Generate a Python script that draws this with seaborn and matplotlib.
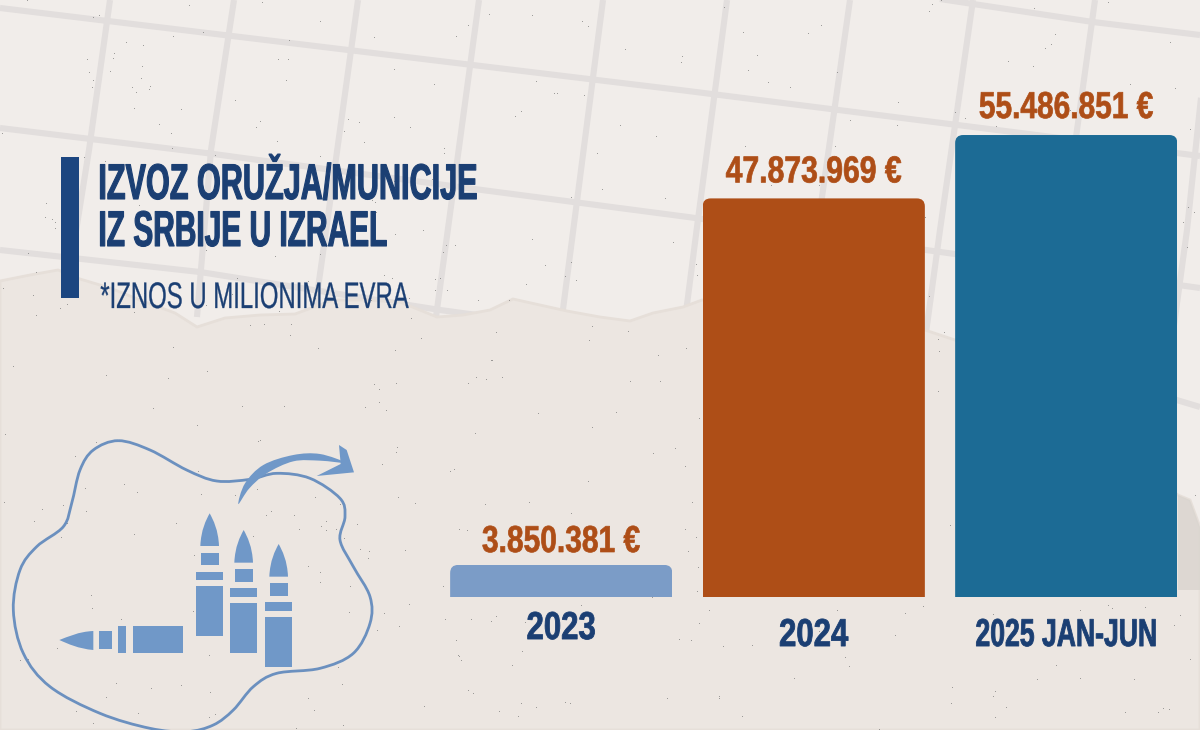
import numpy as np
import matplotlib
matplotlib.use("Agg")
import matplotlib.pyplot as plt
import matplotlib.patheffects as pe
from matplotlib.patches import FancyBboxPatch, PathPatch, Polygon, Rectangle
from matplotlib.path import Path
from matplotlib.transforms import Affine2D
import seaborn as sns

# ==========================================
# DATA
# ==========================================
periods = ["2023", "2024", "2025 JAN-JUN"]
amounts = [3850381, 47873969, 55486851]
bar_colors = ["#7b9cc7", "#ae4e17", "#1c6b95"]
title_lines = ["IZVOZ ORUŽJA/MUNICIJE", "IZ SRBIJE U IZRAEL"]
note = "*IZNOS U MILIONIMA EVRA"

NAVY = "#1b3f73"
RUST = "#ae4e17"
ICON = "#7098c8"


class Squeeze(pe.AbstractPathEffect):
    # no condensed poster font here, so fit the glyphs to a width and stretch them up
    def __init__(self, width, sy, lw=0.0):
        super().__init__()
        self.width, self.sy, self.lw = width, sy, lw

    def draw_path(self, renderer, gc, tpath, affine, rgbFace=None):
        box = tpath.get_extents()
        shown = tpath.transformed(affine).get_extents().width
        cx = (box.x0 + box.x1) / 2
        squeeze = Affine2D().translate(-cx, 0).scale(self.width / shown, self.sy).translate(cx, 0)
        gc0 = renderer.new_gc()
        gc0.copy_properties(gc)
        gc0.set_linewidth(self.lw)
        renderer.draw_path(gc0, tpath, squeeze + affine, rgbFace)
        gc0.restore()


sns.set_theme(style="white")
plt.rcParams["font.family"] = ["Liberation Sans", "DejaVu Sans"]

fig = plt.figure(figsize=(12, 7.3), dpi=100)

# ==========================================
# PAPER BACKGROUND (pixel coordinates)
# ==========================================
bg = fig.add_axes([0, 0, 1, 1])
bg.set_xlim(0, 1200)
bg.set_ylim(730, 0)
bg.axis("off")
bg.add_patch(Rectangle((0, 0), 1200, 730, color="#f1edea", zorder=0))

grid_lines = [
    [(0, 8), (680, 90), (1013, 132), (1200, 156)],
    [(880, -10), (1093, 22), (1200, 35)],
    [(0, 128), (206, 153), (482, 190), (688, 217), (1200, 288)],
    [(0, 250), (200, 272), (440, 310), (700, 345)],
    [(1170, 398), (1200, 407)],
    [(110, 0), (89, 150), (65, 300)],
    [(234, 0), (211, 150), (197, 317)],
    [(358, 0), (321, 267), (312, 330)],
    [(479, 0), (436, 317)],
    [(603, 0), (562, 317)],
    [(727, 0), (697, 227), (685, 320)],
    [(850, 0), (822, 197), (800, 330)],
    [(973, 0), (940, 230), (925, 340)],
    [(1095, 0), (1077, 130), (1050, 330)],
    [(1205, 60), (1187, 230), (1172, 340)],
]
for pts in grid_lines:
    xs, ys = zip(*pts)
    bg.plot(xs, ys, color="#e2dedd", lw=4.4, solid_capstyle="butt", zorder=1)

torn_edge = [(0, 281), (30, 275), (58, 270), (80, 279), (110, 288), (140, 300), (175, 313),
             (197, 327), (225, 318), (260, 315), (295, 314), (333, 300), (365, 300), (400, 302),
             (437, 317), (463, 315), (490, 310), (513, 299), (540, 305), (567, 311), (600, 317),
             (630, 321), (653, 313), (683, 307), (702, 300), (925, 330), (955, 340),
             (1178, 495), (1190, 500), (1200, 527), (1200, 730), (0, 730)]
bg.add_patch(Polygon(torn_edge, closed=True, facecolor="#ece6e1", edgecolor="#e6dfd9", lw=2, zorder=2))
bg.add_patch(Polygon([(1178, 495), (1190, 500), (1200, 527), (1200, 590), (1178, 590)],
                     closed=True, facecolor="#d8d3ce", edgecolor="none", alpha=0.75, zorder=2))

# paper grain from a sine hash, only a few dark specks
yy, xx = np.mgrid[0:730, 0:1200]
grain = np.modf(np.abs(np.sin(xx * 12.9898 + yy * 78.233) * 43758.5453))[0]
overlay = np.zeros((730, 1200, 4))
overlay[..., :3] = 0.4
overlay[..., 3] = np.where(grain > 0.9994, 0.6, 0.0)
bg.imshow(overlay, extent=(0, 1200, 730, 0), aspect="auto", interpolation="bilinear", zorder=3)

# ==========================================
# ICON (traced from the 3x crop, origin 0,420)
# ==========================================
def px(points):
    return [(x / 3, y / 3 + 420) for x, y in points]


def smooth_closed(points):
    # Catmull-Rom through the points, as cubic Beziers
    p = np.array(points, dtype=float)
    n = len(p)
    verts = [p[0]]
    codes = [Path.MOVETO]
    for i in range(n):
        p0, p1, p2, p3 = p[i - 1], p[i], p[(i + 1) % n], p[(i + 2) % n]
        verts += [p1 + (p2 - p0) / 6, p2 - (p3 - p1) / 6, p2]
        codes += [Path.CURVE4] * 3
    return Path(verts, codes)


blob = px([(355, 62), (450, 90), (560, 150), (650, 183), (750, 178), (830, 160), (930, 175),
           (1020, 235), (1035, 290), (1020, 360), (1060, 440), (1110, 530), (1110, 610),
           (1060, 700), (960, 745), (830, 760), (760, 800), (700, 870), (640, 915), (560, 935),
           (450, 925), (300, 880), (150, 800), (70, 700), (40, 570), (60, 450), (110, 380),
           (190, 320), (215, 250), (240, 150), (280, 90)])
bg.add_patch(PathPatch(smooth_closed(blob), facecolor="none", edgecolor="#6b90bf", lw=2.0, zorder=4))

shaft = px([(715, 252), (735, 190), (790, 135), (880, 105), (960, 102), (1035, 128),
            (960, 122), (880, 124), (800, 160), (748, 205)])
bg.add_patch(PathPatch(smooth_closed(shaft), facecolor=ICON, edgecolor="none", zorder=4))
head = px([(1017, 75), (1040, 90), (1062, 157), (950, 168), (1022, 132)])
bg.add_patch(Polygon(head, closed=True, facecolor=ICON, edgecolor="none", zorder=4))


def box(x0, y0, x1, y1):
    return Polygon(px([(x0, y0), (x1, y0), (x1, y1), (x0, y1)]), closed=True,
                   facecolor=ICON, edgecolor="none", zorder=4)


for dx, dy in [(0, 0), (102, 50), (207, 92)]:
    tip = px([(601 + dx, 378 + dy), (603 + dx, 330 + dy), (618 + dx, 300 + dy), (629 + dx, 280 + dy),
              (640 + dx, 300 + dy), (655 + dx, 330 + dy), (657 + dx, 378 + dy), (601 + dx, 378 + dy)])
    codes = [Path.MOVETO] + [Path.CURVE4] * 6 + [Path.CLOSEPOLY]
    bg.add_patch(PathPatch(Path(tip, codes), facecolor=ICON, edgecolor="none", zorder=4))
    bg.add_patch(box(602 + dx, 398 + dy, 657 + dx, 436 + dy))
    bg.add_patch(box(588 + dx, 455 + dy, 670 + dx, 480 + dy))
    bg.add_patch(box(588 + dx, 498 + dy, 670 + dx, 648 + dy))

side_tip = px([(280, 633), (235, 635), (205, 650), (178, 660), (205, 672), (235, 686), (280, 690), (280, 633)])
bg.add_patch(PathPatch(Path(side_tip, [Path.MOVETO] + [Path.CURVE4] * 6 + [Path.CLOSEPOLY]),
                       facecolor=ICON, edgecolor="none", zorder=4))
bg.add_patch(box(298, 633, 336, 688))
bg.add_patch(box(355, 619, 379, 700))
bg.add_patch(box(398, 619, 550, 700))

# ==========================================
# TITLE BLOCK
# ==========================================
bg.add_patch(Rectangle((61, 157), 18, 141, color="#1c4680", lw=0, zorder=5))
bg.text(288, 199, title_lines[0], ha="center", va="baseline", color=NAVY, fontsize=23, fontweight="bold",
        zorder=6, path_effects=[Squeeze(376, 1.57, 0.8)])
bg.text(243, 246, title_lines[1], ha="center", va="baseline", color=NAVY, fontsize=23, fontweight="bold",
        zorder=6, path_effects=[Squeeze(286, 1.57, 0.8)])
bg.text(254, 308, note, ha="center", va="baseline", color=NAVY, fontsize=20,
        zorder=6, path_effects=[Squeeze(308, 1.33, 0.2)])

# ==========================================
# BARS
# ==========================================
ax = fig.add_axes([435 / 1200, (730 - 597) / 730, 757.5 / 1200, 597 / 730])
ax.patch.set_alpha(0)
sns.barplot(x=periods, y=amounts, hue=periods, palette=bar_colors, saturation=1,
            width=0.88, linewidth=0, legend=False, ax=ax)
ax.set_xlim(-0.5, 2.5)
ax.set_ylim(0, 597 / 8.326 * 1e6)
sns.despine(ax=ax, left=True, bottom=True)
ax.set_yticks([])
ax.set_ylabel("")

# round the top corners only: clip each bar with a box that runs past the baseline
x_per_px = 1 / 252.5
y_per_px = 1e6 / 8.326
for bar in ax.patches:
    if bar.get_height() == 0:
        continue
    corner = FancyBboxPatch((bar.get_x(), -30 * y_per_px), bar.get_width(), bar.get_height() + 30 * y_per_px,
                            boxstyle=f"round,pad=0,rounding_size={8 * x_per_px}",
                            mutation_aspect=y_per_px / x_per_px, transform=ax.transData)
    bar.set_clip_path(corner)

# value labels above the bars
label_pads = [5, 7.2, 7.9]
label_widths = [157, 175, 173]
bars = [b for b in ax.patches if b.get_height() > 0]
for container in ax.containers:
    for bar in container:
        if bar.get_height() == 0:
            continue
        i = bars.index(bar)
        text = f"{amounts[i]:,}".replace(",", ".") + " €"
        for lab in ax.bar_label(container, labels=[text if b is bar else "" for b in container],
                                padding=label_pads[i], color=RUST, fontsize=20, fontweight="bold"):
            lab.set_path_effects([Squeeze(label_widths[i], 1.35, 0.5)])

# period labels, 2023 sits a little higher than the other two
tick_widths = [67, 68, 179]
ax.tick_params(axis="x", length=0, pad=20.9)
ax.set_xticks(range(3), periods, color=NAVY, fontsize=20, fontweight="bold")
for i, tick in enumerate(ax.xaxis.get_major_ticks()):
    tick.label1.set_path_effects([Squeeze(tick_widths[i], 1.4, 0.6)])
ax.xaxis.get_major_ticks()[0].label1.set_transform(
    ax.xaxis.get_major_ticks()[0].label1.get_transform() + Affine2D().translate(0, 7))

fig.savefig("out.png", dpi=100)
